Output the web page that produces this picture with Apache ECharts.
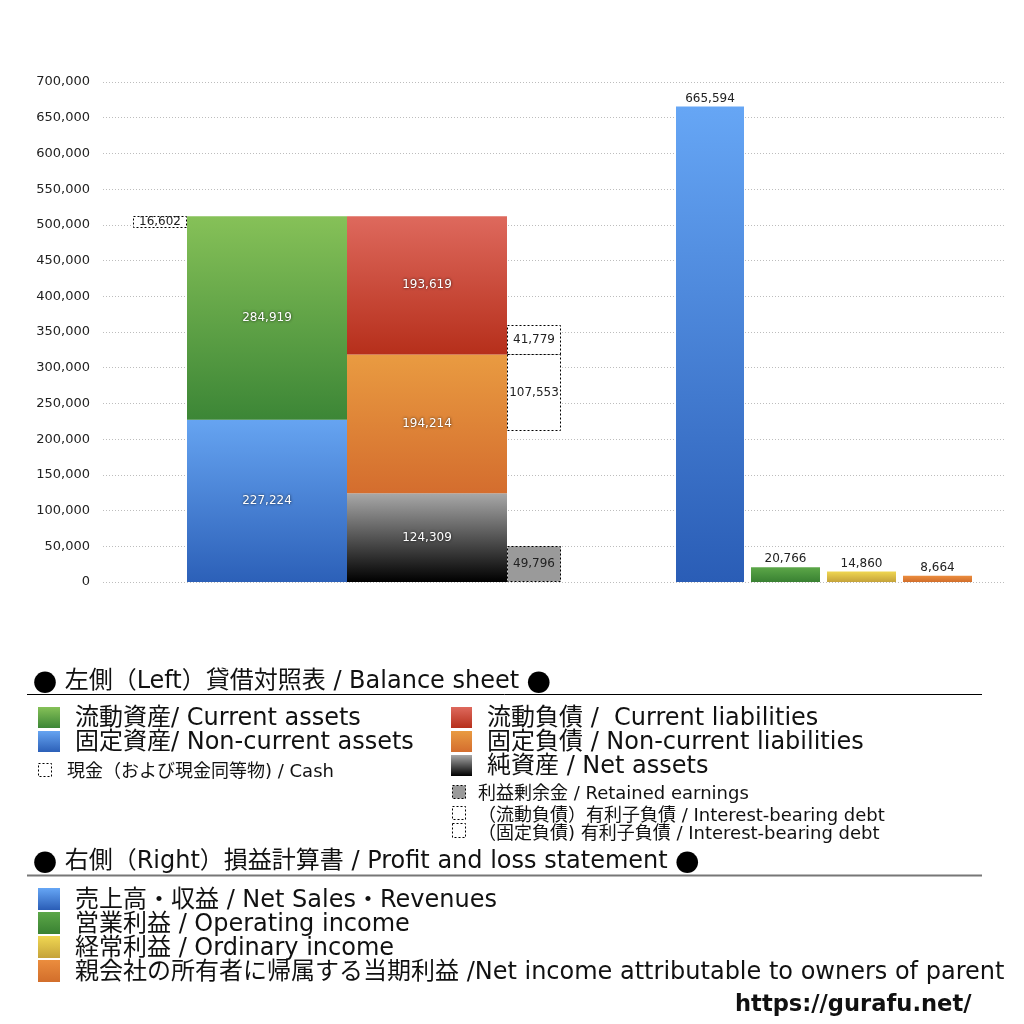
<!DOCTYPE html>
<html><head><meta charset="utf-8">
<script src="https://cdn.jsdelivr.net/npm/echarts@6/dist/echarts.min.js"></script>
<style>html,body{margin:0;padding:0;background:#fff}#c{width:1024px;height:1024px}</style>
</head><body><div id="c"></div>
<script>
// ---- data ----
const assetValues = [227224, 284919];            // 固定資産, 流動資産
const liabilityValues = [124309, 194214, 193619]; // 純資産, 固定負債, 流動負債
const cashValue = 16602;
const currentDebtValue = 41779;
const noncurrentDebtValue = 107553;
const retainedEarningsValue = 49796;
const plNames = ['売上高・収益', '営業利益', '経常利益', '親会社の所有者に帰属する当期利益'];
const plValues = [665594, 20766, 14860, 8664];
const yMin = 0, yMax = 700000, yInterval = 50000;

// ---- layout (horizontal slots on hidden x axis) ----
const colRanges = [
  [30, 84],   // 0 cash
  [84, 244],  // 1 assets
  [244, 404], // 2 liabilities
  [404, 458], // 3 debt / retained
  [573, 641], // 4 sales
  [648, 717], // 5 op
  [724, 793], // 6 ord
  [800, 869]  // 7 net
];
const G = (a, b) => new echarts.graphic.LinearGradient(0, 0, 0, 1, [{offset: 0, color: a}, {offset: 1, color: b}]);
const styles = [
  {fill: G('#66a4f1', '#2c60b8'), lab: 'white'},
  {fill: G('#86c158', '#3c8636'), lab: 'white'},
  {fill: G('#a8a8a8', '#000000'), lab: 'white'},
  {fill: G('#e99b41', '#d46d2e'), lab: 'white'},
  {fill: G('#de695d', '#b62f1b'), lab: 'white'},
  {fill: '#ffffff', stroke: '#000', lab: 'dark'},
  {fill: '#9a9a9a', stroke: '#000', lab: 'dark'},
  {fill: G('#66a6f5', '#2a5db6'), lab: 'top'},
  {fill: G('#5ca748', '#398132'), lab: 'top'},
  {fill: G('#f0d752', '#c5a33a'), lab: 'top'},
  {fill: G('#eb8d3e', '#d26e2b'), lab: 'top'}
];

// ---- build marks from data: [col, low, high, label, style] ----
const marks = [];
let acc = 0;
assetValues.forEach((v, i) => { marks.push([1, acc, acc + v, v, i]); acc += v; });
const totalAssets = acc;
marks.push([0, totalAssets - cashValue, totalAssets, cashValue, 5]);
acc = 0;
const liabBottoms = [];
liabilityValues.forEach((v, i) => { liabBottoms.push(acc); marks.push([2, acc, acc + v, v, 2 + i]); acc += v; });
const curLiabBottom = liabBottoms[2];
marks.push([3, curLiabBottom, curLiabBottom + currentDebtValue, currentDebtValue, 5]);
marks.push([3, curLiabBottom - noncurrentDebtValue, curLiabBottom, noncurrentDebtValue, 5]);
marks.push([3, 0, retainedEarningsValue, retainedEarningsValue, 6]);
plValues.forEach((v, i) => marks.push([4 + i, 0, v, v, 7 + i]));

const FONT = "'DejaVu Sans', 'Noto Sans CJK JP', sans-serif";
const CJK = "'Noto Sans CJK JP', sans-serif";
const fmt = v => Number(v).toLocaleString('en-US');

const chart = echarts.init(document.getElementById('c'));

// ---- legend graphics ----
const gfx = [];
const DY = 2;
function txt(x, y, t, size, weight, rich) {
  gfx.push({type: 'text', x: x, y: y + DY, style: {text: t, fontSize: size, fontFamily: FONT, fontWeight: weight || 'normal', fill: '#111', verticalAlign: 'middle', rich: rich}});
}
function sq(x, y, w, h, fill, dashed) {
  gfx.push({type: 'rect', shape: {x: x, y: y, width: w, height: h}, style: {fill: fill, stroke: dashed ? '#000' : null, lineWidth: dashed ? 1 : 0, lineDash: dashed ? [2, 2] : null}});
}
const dotRich = {d: {fontFamily: CJK, fontSize: 24, fill: '#000'}};
txt(33, 680, '{d|●} 左側（Left）貸借対照表 / Balance sheet {d|●}', 24, null, dotRich);
gfx.push({type: 'line', shape: {x1: 27, y1: 694.5, x2: 982, y2: 694.5}, style: {stroke: '#000', lineWidth: 1}});
sq(38, 707, 22, 21, styles[1].fill); txt(75, 717, '流動資産/ Current assets', 24);
sq(38, 731, 22, 21, styles[0].fill); txt(75, 741, '固定資産/ Non-current assets', 24);
sq(38.5, 763.5, 13, 13, '#fff', true); txt(67, 770, '現金（および現金同等物) / Cash', 18);
sq(451, 707, 21, 21, styles[4].fill); txt(487, 717, '流動負債 /  Current liabilities', 24);
sq(451, 731, 21, 21, styles[3].fill); txt(487, 741, '固定負債 / Non-current liabilities', 24);
sq(451, 755, 21, 21, styles[2].fill); txt(487, 765, '純資産 / Net assets', 24);
sq(452.5, 785.5, 13, 13, '#9a9a9a', true); txt(478, 792, '利益剰余金 / Retained earnings', 18);
sq(452.5, 806.5, 13, 13, '#fff', true); txt(478, 814, '（流動負債）有利子負債 / Interest-bearing debt', 18);
sq(452.5, 823.5, 13, 14, '#fff', true); txt(478, 832, '（固定負債) 有利子負債 / Interest-bearing debt', 18);
txt(33, 860, '{d|●} 右側（Right）損益計算書 / Profit and loss statement {d|●}', 24, null, dotRich);
gfx.push({type: 'line', shape: {x1: 27, y1: 875.5, x2: 982, y2: 875.5}, style: {stroke: '#777', lineWidth: 2}});
const plLegendEn = [' / Net Sales・Revenues', ' / Operating income', ' / Ordinary income', ' /Net income attributable to owners of parent'];
plNames.forEach((n, i) => {
  sq(38, 888 + i * 24, 22, 22, styles[7 + i].fill);
  txt(75, 899 + i * 24, n + plLegendEn[i], 24);
});
txt(735, 1003, 'https://gurafu.net/', 22.6, 'bold');

chart.setOption({
  animation: false,
  backgroundColor: '#ffffff',
  textStyle: {fontFamily: FONT},
  grid: {left: 103, right: 19, top: 82, bottom: 442, containLabel: false},
  xAxis: {type: 'value', min: 0, max: 902, show: false},
  yAxis: {
    type: 'value', min: yMin, max: yMax, interval: yInterval,
    axisLine: {show: false}, axisTick: {show: false},
    axisLabel: {color: '#222', fontSize: 13, fontFamily: FONT, margin: 13, padding: [4, 0, 0, 0], formatter: v => fmt(v)},
    splitLine: {show: true, lineStyle: {color: '#bdbdbd', type: [1, 2], width: 1}}
  },
  series: [{
    type: 'custom',
    data: marks,
    encode: {x: [], y: [1, 2]},
    clip: false,
    renderItem: function (params, api) {
      const c = colRanges[api.value(0)];
      const s = styles[api.value(4)];
      const tl = api.coord([c[0], api.value(2)]);
      const br = api.coord([c[1], api.value(1)]);
      const dashed = !!s.stroke;
      const shape = dashed
        ? {x: Math.round(tl[0]) + 0.5, y: Math.round(tl[1]) + 0.5, width: Math.round(br[0] - tl[0]) - 1, height: Math.round(br[1] - tl[1]) - 1}
        : {x: tl[0], y: tl[1], width: br[0] - tl[0], height: br[1] - tl[1]};
      let tstyle, tconf;
      const base = {text: fmt(api.value(3)), fontSize: 12, fontFamily: FONT};
      if (s.lab === 'white') {
        tstyle = Object.assign(base, {fill: '#fff', textShadowColor: 'rgba(0,0,0,0.8)', textShadowBlur: 3});
        tconf = {position: 'inside'};
      } else if (s.lab === 'dark') {
        tstyle = Object.assign(base, {fill: '#222'});
        tconf = {position: 'inside'};
      } else {
        tstyle = Object.assign(base, {fill: '#222'});
        tconf = {position: 'top', distance: 2};
      }
      return {
        type: 'rect', shape: shape,
        style: {fill: s.fill, stroke: s.stroke || null, lineWidth: dashed ? 1 : 0, lineDash: dashed ? [2, 2] : null},
        textContent: {style: tstyle},
        textConfig: tconf
      };
    }
  }],
  graphic: gfx
});
</script>
</body></html>
